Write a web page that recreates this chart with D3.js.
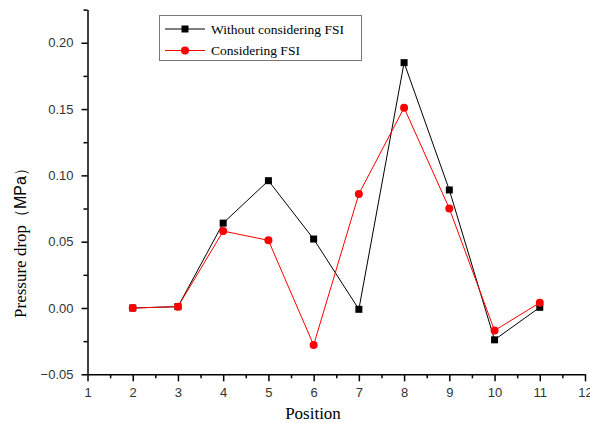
<!DOCTYPE html>
<html>
<head>
<meta charset="utf-8">
<script src="https://cdn.jsdelivr.net/npm/d3@7"></script>
<style>
  html, body { margin: 0; padding: 0; background: #fff; }
  svg { display: block; }
  .tick text { font-family: Arial, "Liberation Sans", sans-serif; font-size: 13px; fill: #333; }
</style>
</head>
<body>
<div id="chart"></div>
<script>
// Data
var positions = [2, 3, 4, 5, 6, 7, 8, 9, 10, 11];
var withoutFSI = [0.000, 0.001, 0.064, 0.096, 0.052, -0.001, 0.185, 0.089, -0.024, 0.0005];
var withFSI = [0.000, 0.001, 0.058, 0.051, -0.028, 0.086, 0.151, 0.075, -0.017, 0.004];
var xTicks = [1, 2, 3, 4, 5, 6, 7, 8, 9, 10, 11, 12];
var yTicks = [-0.05, 0.00, 0.05, 0.10, 0.15, 0.20];
var seriesNames = ['Without considering FSI', 'Considering FSI'];

(function () {
    'use strict';

    var width = 590, height = 423;
    var left = 87.5, right = 585, top = 9.6, bottom = 374.3;
    var serif = '"Liberation Serif", "Times New Roman", serif';
    var sans = 'Arial, "Liberation Sans", sans-serif';

    var svg = d3.select('#chart').append('svg')
        .attr('width', width)
        .attr('height', height);

    var x = d3.scaleLinear().domain([1, 12]).range([left, right]);
    var y = d3.scaleLinear().domain([-0.05, 0.225]).range([bottom, top]);

    // minor ticks first (no labels)
    var xMinor = d3.range(1.5, 12, 1);
    var yMinor = d3.range(-0.025, 0.226, 0.05);

    svg.append('g')
        .attr('transform', 'translate(0,' + bottom + ')')
        .call(d3.axisBottom(x).tickValues(xMinor).tickSize(4).tickFormat(''))
        .call(function (g) { g.select('.domain').remove(); })
        .selectAll('line').attr('stroke', '#000').attr('stroke-width', 1.5);

    svg.append('g')
        .attr('transform', 'translate(' + left + ',0)')
        .call(d3.axisLeft(y).tickValues(yMinor).tickSize(4).tickFormat(''))
        .call(function (g) { g.select('.domain').remove(); })
        .selectAll('line').attr('stroke', '#000').attr('stroke-width', 1.5);

    var xAxis = svg.append('g')
        .attr('transform', 'translate(0,' + bottom + ')')
        .call(d3.axisBottom(x).tickValues(xTicks).tickSize(7).tickSizeOuter(0).tickPadding(6).tickFormat(d3.format('d')));
    xAxis.select('.domain').attr('stroke', '#000').attr('stroke-width', 1.5);
    xAxis.selectAll('line').attr('stroke', '#000').attr('stroke-width', 1.5);

    var yAxis = svg.append('g')
        .attr('transform', 'translate(' + left + ',0)')
        .call(d3.axisLeft(y).tickValues(yTicks).tickSize(6).tickSizeOuter(0).tickPadding(8).tickFormat(d3.format('.2f')));
    yAxis.select('.domain').attr('stroke', '#000').attr('stroke-width', 1.5);
    yAxis.selectAll('line').attr('stroke', '#000').attr('stroke-width', 1.5);

    // axis titles
    svg.append('text')
        .attr('x', 313).attr('y', 419)
        .attr('text-anchor', 'middle')
        .style('font-family', serif)
        .style('font-size', '17px')
        .text('Position');

    var yTitle = svg.append('text')
        .attr('transform', 'translate(26,239) rotate(-90)')
        .attr('text-anchor', 'middle')
        .style('font-size', '17px');
    yTitle.append('tspan').style('font-family', serif).text('Pressure drop');
    yTitle.append('tspan').style('font-family', sans).style('font-size', '16px').text('（MPa）');

    var line = d3.line()
        .x(function (d) { return x(d[0]); })
        .y(function (d) { return y(d[1]); });

    var blackPts = positions.map(function (p, i) { return [p, withoutFSI[i]]; });
    var redPts = positions.map(function (p, i) { return [p, withFSI[i]]; });

    svg.append('path').datum(blackPts)
        .attr('d', line).attr('fill', 'none')
        .attr('stroke', '#000').attr('stroke-width', 1);

    svg.append('g').selectAll('rect').data(blackPts).join('rect')
        .attr('x', function (d) { return x(d[0]) - 3.5; })
        .attr('y', function (d) { return y(d[1]) - 3.5; })
        .attr('width', 7).attr('height', 7)
        .attr('fill', '#000');

    svg.append('path').datum(redPts)
        .attr('d', line).attr('fill', 'none')
        .attr('stroke', '#ff0000').attr('stroke-width', 1);

    svg.append('g').selectAll('circle').data(redPts).join('circle')
        .attr('cx', function (d) { return x(d[0]); })
        .attr('cy', function (d) { return y(d[1]); })
        .attr('r', 4)
        .attr('fill', '#ff0000');

    // legend
    var legend = svg.append('g');
    legend.append('rect')
        .attr('x', 159.5).attr('y', 15.5)
        .attr('width', 202).attr('height', 45)
        .attr('fill', '#fff')
        .attr('stroke', '#777').attr('stroke-width', 1);

    var rows = [
        { name: seriesNames[0], color: '#000', shape: 'square', y: 29 },
        { name: seriesNames[1], color: '#ff0000', shape: 'circle', y: 50.5 }
    ];
    rows.forEach(function (r) {
        legend.append('line')
            .attr('x1', 165).attr('x2', 205)
            .attr('y1', r.y).attr('y2', r.y)
            .attr('stroke', r.color).attr('stroke-width', 1);
        if (r.shape === 'square') {
            legend.append('rect')
                .attr('x', 181.5).attr('y', r.y - 3.5)
                .attr('width', 7).attr('height', 7)
                .attr('fill', r.color);
        } else {
            legend.append('circle')
                .attr('cx', 185).attr('cy', r.y).attr('r', 4)
                .attr('fill', r.color);
        }
        legend.append('text')
            .attr('x', 211).attr('y', r.y + 4.5)
            .style('font-family', serif)
            .style('font-size', '13.5px')
            .text(r.name);
    });
})();
</script>
</body>
</html>
